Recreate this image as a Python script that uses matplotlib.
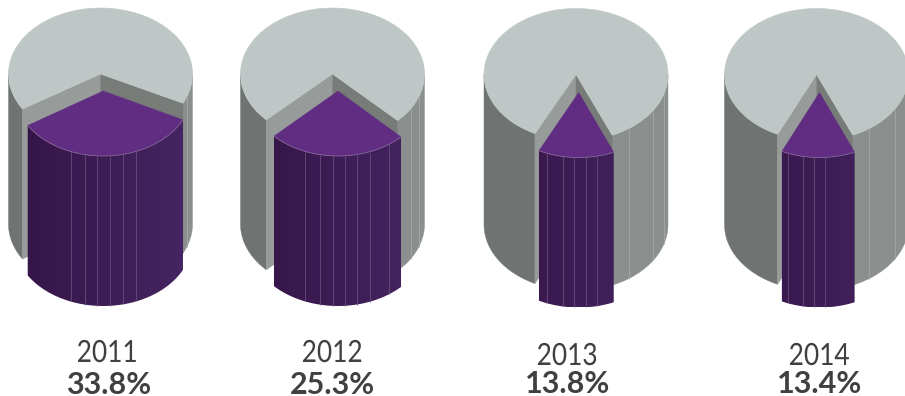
import numpy as np
import matplotlib

matplotlib.use("Agg")
import matplotlib.pyplot as plt
from matplotlib.colors import LinearSegmentedColormap
from matplotlib.patches import Polygon
from matplotlib.patheffects import AbstractPathEffect
from matplotlib.transforms import Affine2D

# shares shown on each cylinder
years = ["2011", "2012", "2013", "2014"]
shares = [33.8, 25.3, 13.8, 13.4]

# how far the cut swings to the left of straight-down, in degrees
left_cut = [58.0, 46.0, 26.5, 25.0]

# vertical seams on the outer wall and on the pulled-out slice
wall_ribs = [[70], [58, 70], [35, 57, 73], [35, 58]]
slice_ribs = [
    [-21.5, -12, -3.7, 4.4, 12.6, 21.7],
    [-22, -11.5, -3.4, 4.5, 12.2, 21.3, 35],
    [-21, -10.3, -2.9, 4.6, 12],
    [-21, -10.9, -3.4, 3.3],
]

centers = [(100.5, 74), (332.5, 74), (576, 74.5), (816.5, 74.5)]
slice_offset = [(2.7, 17), (5.5, 17), (2.7, 18), (3.0, 18)]
year_pos = [(107, 362), (332, 362), (567, 365), (819, 365)]
share_pos = [(109, 394), (332, 394), (568, 393), (820, 393)]

RX, RY, H = 92, 66, 150
SLICE_RX, SLICE_RY = 89, 65

TOP = "#bfc7c6"
WALL_L = "#6f7472"
WALL_R = "#8b908e"
CUT_L = "#979c9a"
CUT_R = "#777c79"
SLICE_TOP = "#612d82"
TEXT = "#404040"

side_cmap = LinearSegmentedColormap.from_list("side", ["#351447", "#462663"])

plt.rcParams["font.family"] = ["Lato", "DejaVu Sans"]


class Squeeze(AbstractPathEffect):
    # narrows glyphs horizontally around a fixed pixel column
    def __init__(self, x0, k):
        super().__init__()
        self.x0 = x0
        self.k = k

    def draw_path(self, renderer, gc, tpath, affine, rgbFace=None):
        squeeze = Affine2D().translate(-self.x0, 0).scale(self.k, 1).translate(self.x0, 0)
        renderer.draw_path(gc, tpath, affine + squeeze, rgbFace)


def rim(cx, cy, a, b, n=80, rx=RX, ry=RY):
    # points on the ellipse, angles measured from straight down towards the right
    t = np.radians(np.linspace(a, b, n))
    return np.column_stack([cx + rx * np.sin(t), cy + ry * np.cos(t)])


def band(cx, cy, a, b, color, z):
    top = rim(cx, cy, a, b)
    bottom = top[::-1] + [0, H]
    return Polygon(np.vstack([top, bottom]), fc=color, ec=color, lw=0.3, zorder=z)


def seam(ax, x, y, color, z, lw=0.6):
    ax.plot([x, x], [y, y + H], color=color, lw=lw, zorder=z, solid_capstyle="butt")


def draw_cylinder(ax, i):
    cx, cy = centers[i]
    sweep = shares[i] * 3.6
    a = -left_cut[i]
    b = a + sweep

    # outer wall either side of the cut
    ax.add_patch(band(cx, cy, -90, a, WALL_L, 1))
    ax.add_patch(band(cx, cy, b, 90, WALL_R, 1))
    for deg in wall_ribs[i]:
        x, y = rim(cx, cy, deg, deg, 1)[0]
        seam(ax, x, y, "#a3a9a7", 2)

    # faces of the cut
    left = rim(cx, cy, a, a, 1)[0]
    right = rim(cx, cy, b, b, 1)[0]
    apex = np.array([cx, cy])
    for p, color in [(left, CUT_L), (right, CUT_R)]:
        quad = [apex, p, p + [0, H], apex + [0, H]]
        ax.add_patch(Polygon(quad, fc=color, ec=color, lw=0.3, zorder=3))

    # remaining top face
    outline = np.vstack([apex, rim(cx, cy, b, 360 + a, 200)])
    ax.add_patch(Polygon(outline, fc=TOP, ec=TOP, lw=0.4, zorder=4))

    # pulled-out slice: shaded side, seams, then the top face
    sx, sy = cx + slice_offset[i][0], cy + slice_offset[i][1]
    front = rim(sx, sy, a, b, rx=SLICE_RX, ry=SLICE_RY)
    side = Polygon(np.vstack([front, front[::-1] + [0, H]]), fc="none", ec="none", zorder=5)
    ax.add_patch(side)
    shade = np.linspace(0, 1, 256).reshape(1, -1)
    im = ax.imshow(shade, cmap=side_cmap, aspect="auto", zorder=5, interpolation="bilinear",
                   extent=[sx - SLICE_RX, sx + SLICE_RX, sy + SLICE_RY + H, sy])
    im.set_clip_path(side)
    for deg in slice_ribs[i]:
        x, y = rim(sx, sy, deg, deg, 1, rx=SLICE_RX, ry=SLICE_RY)[0]
        seam(ax, x, y, "#654f78", 6)
    wedge = np.vstack([[sx, sy], front])
    ax.add_patch(Polygon(wedge, fc=SLICE_TOP, ec=SLICE_TOP, lw=0.3, zorder=7))
    ax.plot(front[:, 0], front[:, 1], color="#8a6f9c", lw=0.5, zorder=8)


fig = plt.figure(figsize=(9.05, 3.96), dpi=100)
ax = fig.add_axes([0, 0, 1, 1])

for i in range(len(years)):
    draw_cylinder(ax, i)
    x, y = year_pos[i]
    ax.text(x, y, years[i], ha="center", va="baseline", fontsize=22, color=TEXT,
            path_effects=[Squeeze(x, 0.86)])
    ax.text(*share_pos[i], f"{shares[i]:.1f}%", ha="center", va="baseline", fontsize=22,
            fontweight="bold", color=TEXT)

ax.set_xlim(0, 905)
ax.set_ylim(396, 0)
ax.axis("off")

fig.savefig("out.png", dpi=100)
plt.close()
